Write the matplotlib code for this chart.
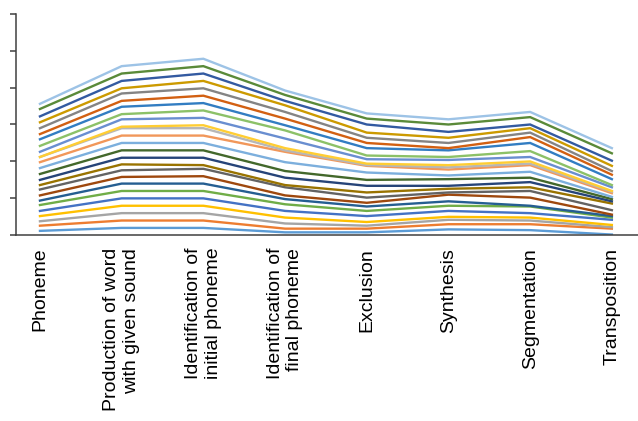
import numpy as np
import matplotlib
matplotlib.use("Agg")
import matplotlib.pyplot as plt

plt.rcParams['font.family'] = ['Liberation Sans', 'DejaVu Sans']

tasks = ["Phoneme", "Production of word\nwith given sound", "Identification of\ninitial phoneme",
         "Identification of\nfinal phoneme", "Exclusion", "Synthesis", "Segmentation", "Transposition"]

# Scores per task for each pupil (stacked in this order, bottom to top)
phoneme       = [6, 7, 6, 7, 7, 8, 6, 7, 8, 6, 7, 8, 8, 8, 7, 0, 7, 8, 9, 7, 8, 8, 8, 10, 7]
production    = [10, 10, 10, 10, 10, 10, 10, 9, 9, 8, 9, 10, 10, 10, 10, 2, 10, 7, 10, 8, 10, 7, 10, 10, 10]
ident_initial = [10, 10, 10, 10, 10, 10, 10, 10, 10, 5, 10, 10, 10, 10, 10, 4, 10, 10, 10, 10, 10, 10, 10, 10, 10]
ident_final   = [4, 5, 7, 8, 9, 9, 7, 5, 11, 3, 10, 9, 12, 14, 2, 3, 13, 11, 7, 9, 9, 9, 6, 8, 6]
exclusion     = [4, 5, 4, 5, 8, 7, 6, 5, 7, 7, 9, 8, 10, 9, 1, 2, 6, 5, 10, 7, 7, 7, 11, 8, 7]
synthesis     = [8, 7, 6, 4, 8, 7, 6, 9, 3, 5, 4, 9, 5, 8, 3, 3, 7, 4, 9, 3, 7, 7, 8, 10, 7]
segmentation  = [7, 8, 5, 4, 6, 9, 1, 11, 9, 5, 7, 6, 8, 9, 2, 3, 6, 8, 11, 8, 6, 6, 5, 10, 7]
transposition = [1, 8, 2, 3, 7, 3, 2, 2, 6, 9, 3, 3, 3, 5, 2, 1, 5, 3, 8, 6, 5, 7, 7, 10, 7]

pupils = [f"Pupil {i + 1}" for i in range(25)]

colors = ["#5B9BD5", "#ED7D31", "#A5A5A5", "#FFC000", "#4472C4", "#70AD47",
          "#255E91", "#9E480E", "#636363", "#997300", "#264478", "#43682B",
          "#7CAFDD", "#F1975A", "#B7B7B7", "#FFCD33", "#698ED0", "#8CC168",
          "#327DC2", "#D26012", "#848484", "#CC9A00", "#335AA1", "#5A8A39",
          "#9DC3E6"]

scores = np.array([phoneme, production, ident_initial, ident_final,
                   exclusion, synthesis, segmentation, transposition]).T
stacked = np.cumsum(scores, axis=0)

W, H = 638, 421
fig = plt.figure(figsize=(W / 100, H / 100), dpi=100)
left, right, top, bottom = 15.7, 638, 13.7, 235.3
ax = fig.add_axes([left / W, 1 - bottom / H, (right - left) / W, (bottom - top) / H])

x = np.arange(len(tasks))
for i, name in enumerate(pupils):
    ax.plot(x, stacked[i], color=colors[i], lw=1.7, label=name, solid_joinstyle='miter')

ax.set_xlim(-0.297, 7.32)
ax.set_ylim(0, 300)
ax.set_yticks(np.arange(0, 301, 50))
ax.set_yticklabels([])
ax.set_xticks(x)
ax.set_xticklabels(tasks, rotation=90, fontsize=14, color='black')
for t in ax.get_xticklabels():
    t.set_multialignment('right')

for side in ['top', 'right']:
    ax.spines[side].set_visible(False)
for side in ['left', 'bottom']:
    ax.spines[side].set_color('#404040')
    ax.spines[side].set_linewidth(1.1)
ax.tick_params(axis='y', direction='out', length=4, width=1.1, color='#404040')
ax.tick_params(axis='x', length=0, pad=9)

fig.savefig("out.png", dpi=100)
